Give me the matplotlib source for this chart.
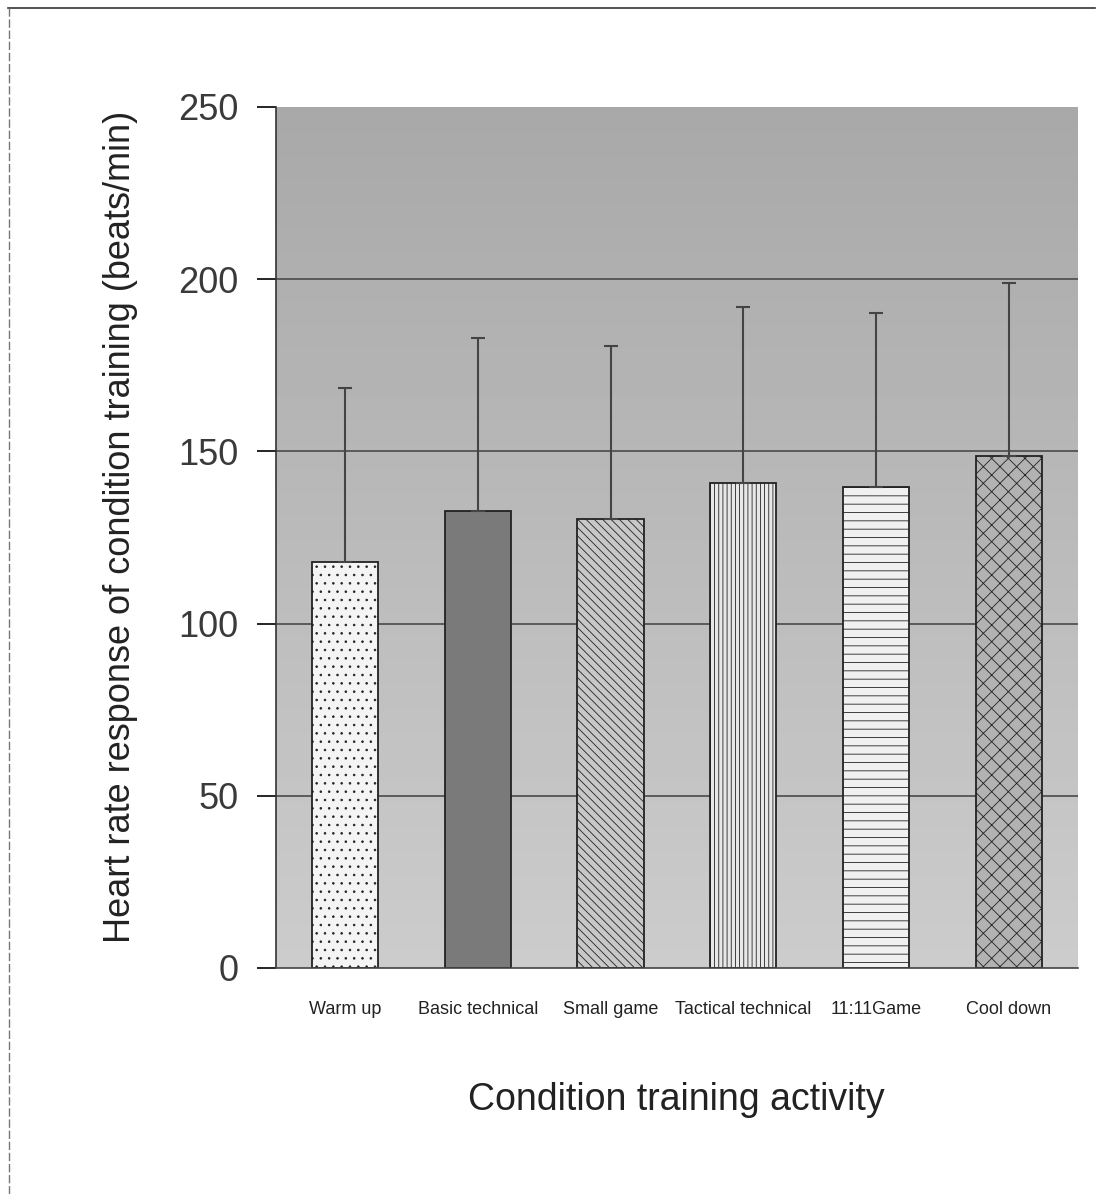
import numpy as np
import matplotlib
matplotlib.use('Agg')
import matplotlib.pyplot as plt
from matplotlib.lines import Line2D

plt.rcParams['font.family'] = ['Liberation Sans', 'DejaVu Sans']
plt.rcParams['hatch.linewidth'] = 0.6

# datos
actividades = ['Warm up', 'Basic technical', 'Small game', 'Tactical technical', '11:11Game', 'Cool down']
medias = [118, 132.6, 130.4, 140.9, 139.8, 148.6]
sd = [50.3, 50.4, 50.1, 50.9, 50.5, 50.3]
yticks = [0, 50, 100, 150, 200, 250]

colores = ['#f4f4f4', '#7a7a7a', '#c8c8c8', '#e8e8e8', '#f0f0f0', '#b2b2b2']
tramas = ['..', '', '\\\\\\\\', '||||', '--', 'xx']

fig = plt.figure(figsize=(11.02, 11.94), dpi=100)
ax = fig.add_axes([0.2505, 0.1893, 0.7275, 0.7211])

# fondo gris con degradado (mas claro abajo, como el escaneo)
grad = np.linspace(0.80, 0.66, 256).reshape(-1, 1)
ax.imshow(grad, cmap='gray', vmin=0, vmax=1, aspect='auto',
          extent=[0, 1, 0, 1], transform=ax.transAxes, origin='lower', zorder=0)

x = np.arange(len(actividades))
for v in yticks[1:-1]:
    ax.axhline(v, color='#4a4a4a', lw=1.2, zorder=1)

barras = ax.bar(x, medias, width=0.5, color=colores, edgecolor='#222222',
                linewidth=1.3, zorder=2)
for b, h in zip(barras, tramas):
    b.set_hatch(h)

ax.errorbar(x, medias, yerr=[np.zeros(len(sd)), sd], fmt='none',
            ecolor='#444444', elinewidth=1.5, capsize=5, capthick=1.5, zorder=3)

ax.set_xlim(-0.52, 5.52)
ax.set_ylim(0, 250)
ax.set_yticks(yticks)
ax.set_yticklabels([str(v) for v in yticks], fontsize=26, color='#3a3a3a')
ax.tick_params(axis='y', direction='out', length=14, width=1.2, pad=13)
ax.set_xticks(x)
ax.set_xticklabels(actividades, fontsize=13, color='#222222')
ax.tick_params(axis='x', length=0, pad=24)

for s in ['top', 'right']:
    ax.spines[s].set_visible(False)
ax.spines['left'].set_color('#333333')
ax.spines['left'].set_linewidth(1.2)
ax.spines['bottom'].set_color('#444444')
ax.spines['bottom'].set_linestyle((0, (4, 1)))
ax.spines['bottom'].set_linewidth(1.2)

fig.text(0.109, 0.559, 'Heart rate response of condition training (beats/min)',
         rotation=90, fontsize=26, color='#222222', ha='center', va='center')
fig.text(0.614, 0.079, 'Condition training activity', fontsize=27,
         color='#222222', ha='center', va='center')

# marco del escaneo
fig.add_artist(Line2D([0.007, 0.994], [0.993, 0.993], color='#333333', lw=1.2))
fig.add_artist(Line2D([0.008, 0.008], [0.0, 0.993], color='#777777', lw=1.0,
                      linestyle=(0, (6, 2))))

fig.savefig('out.png', dpi=100, facecolor='white')
